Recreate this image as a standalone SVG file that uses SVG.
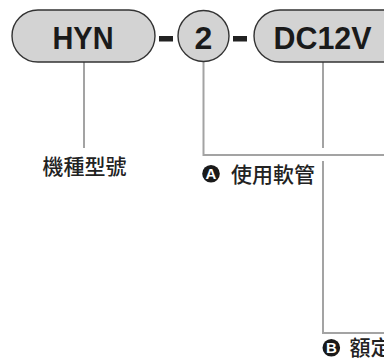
<svg xmlns="http://www.w3.org/2000/svg" width="384" height="363" viewBox="0 0 384 363">
<style>
.pill{fill:#d3d3d3;stroke:#333;stroke-width:1.4}
.code{font-family:"Liberation Sans",Arial,sans-serif;font-weight:bold;font-size:32px;fill:#1a1a1a;text-anchor:middle}
.dash{fill:#222}
.conn{fill:none;stroke:#a3a3a3;stroke-width:2}
.lbl{font-family:"Noto Sans CJK TC","Noto Sans",sans-serif;font-size:21px;font-weight:500;fill:#222}
.badge{fill:#1a1a1a}
.bl{font-family:"Liberation Sans",Arial,sans-serif;font-weight:bold;font-size:15px;fill:#fff;text-anchor:middle}
</style>
<rect width="384" height="363" fill="#fff"/>
<g id="connectors">
<line class="conn" x1="84" y1="62" x2="84" y2="148"/>
<polyline class="conn" points="203.5,62 203.5,155 384,155"/>
<line class="conn" x1="323" y1="62" x2="323" y2="148"/>
<polyline class="conn" points="323,161 323,333 384,333"/>
</g>
<g id="node-hyn">
<rect class="pill" x="12" y="10" width="143" height="52" rx="26"/>
<text class="code" x="83" y="48.5" textLength="61" lengthAdjust="spacingAndGlyphs">HYN</text>
</g>
<rect class="dash" x="159" y="36" width="14" height="5.5"/>
<g id="node-2">
<circle class="pill" cx="203.5" cy="36" r="25.5"/>
<text class="code" x="203.5" y="48.5">2</text>
</g>
<rect class="dash" x="233" y="36" width="14" height="5.5"/>
<g id="node-dc12v">
<rect class="pill" x="254" y="10" width="156" height="52" rx="26"/>
<text class="code" x="322.5" y="48.5" textLength="98" lengthAdjust="spacingAndGlyphs">DC12V</text>
</g>
<g id="label-model">
<text class="lbl" x="42.5" y="174">機種型號</text>
</g>
<g id="label-a">
<circle class="badge" cx="211" cy="173.7" r="8.8"/>
<text class="bl" x="211" y="179">A</text>
<text class="lbl" x="231" y="181.5">使用軟管</text>
</g>
<g id="label-b">
<circle class="badge" cx="331.3" cy="347.7" r="8.8"/>
<text class="bl" x="331.3" y="353">B</text>
<text class="lbl" x="349.5" y="355">額定</text>
</g>
</svg>
